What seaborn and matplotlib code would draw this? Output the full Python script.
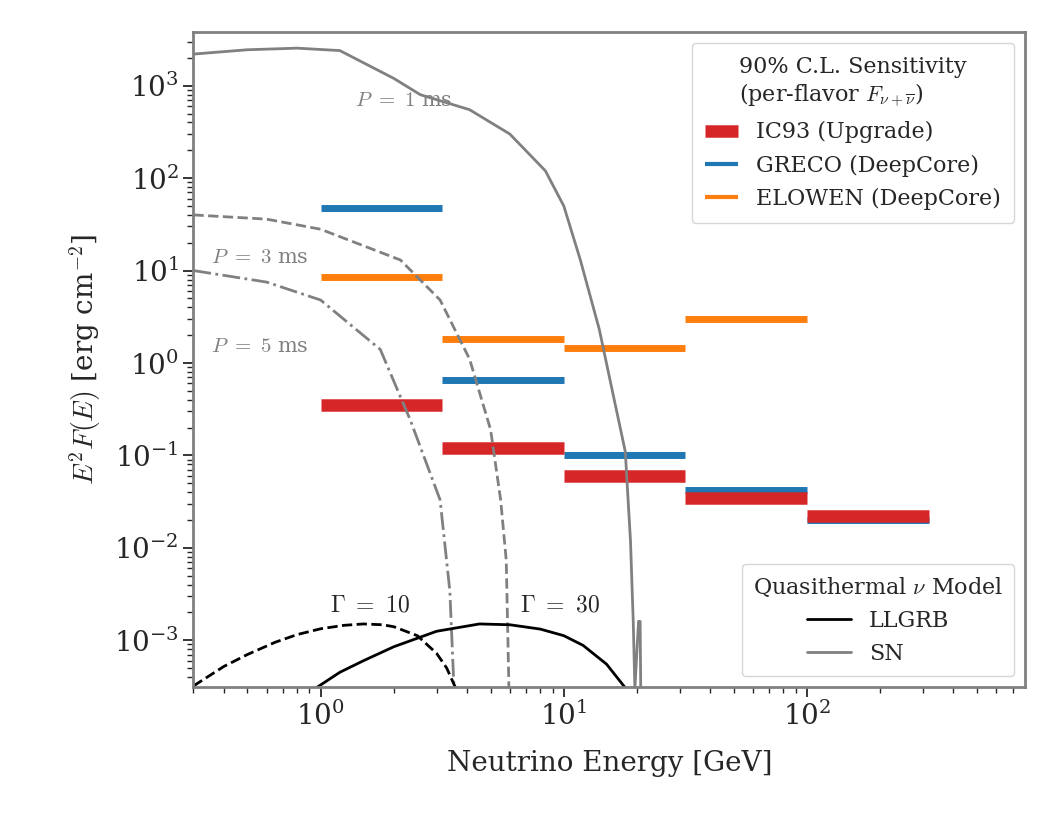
import numpy as np
import matplotlib
matplotlib.use("Agg")
import matplotlib.pyplot as plt
import seaborn as sns
from matplotlib.lines import Line2D

sns.set_theme(style="ticks")
plt.rcParams['font.family'] = ['DejaVu Serif']
plt.rcParams['mathtext.fontset'] = 'cm'

bin_edges = [1, 3.16, 10, 31.6, 100, 316]
ic93 = [0.35, 0.12, 0.06, 0.035, 0.022]
greco = [48, 0.65, 0.10, 0.042, 0.020]
elowen = [8.5, 1.8, 1.45, 3.0]

sn1_E = [0.3, 0.5, 0.8, 1.2, 2.0, 2.57, 4.1, 6.0, 8.4, 10, 11.7, 14, 15.5, 17.9, 18.8, 19.3, 19.6, 20.3, 20.6, 20.8]
sn1_F = [2200, 2450, 2550, 2400, 1200, 800, 550, 300, 120, 50, 13, 2.3, 0.65, 0.11, 0.012, 0.0016, 0.0003, 0.0016, 0.0016, 0.0001]
sn3_E = [0.3, 0.6, 1.0, 2.13, 3.1, 4.1, 5.0, 5.5, 5.8, 6.0]
sn3_F = [40, 36, 28, 13, 4.8, 1.1, 0.19, 0.033, 0.0073, 0.0001]
sn5_E = [0.3, 0.6, 1.0, 1.76, 2.34, 3.1, 3.4, 3.6]
sn5_F = [10, 7.5, 4.8, 1.4, 0.24, 0.033, 0.0034, 0.0001]

g10_E = [0.3, 0.4, 0.5, 0.65, 0.8, 1.0, 1.25, 1.5, 1.8, 2.0, 2.5, 3.0, 3.3, 3.6]
g10_F = [3.2e-4, 5.2e-4, 7e-4, 9.5e-4, 1.15e-3, 1.33e-3, 1.45e-3, 1.5e-3, 1.47e-3, 1.4e-3, 1.12e-3, 7.2e-4, 5e-4, 3e-4]
g30_E = [0.95, 1.2, 1.5, 2.0, 3.0, 4.5, 6.0, 8.0, 10, 12, 15, 18]
g30_F = [3e-4, 4.5e-4, 6e-4, 8.5e-4, 1.25e-3, 1.5e-3, 1.47e-3, 1.32e-3, 1.12e-3, 8.8e-4, 5.5e-4, 3e-4]

fig, ax = plt.subplots(figsize=(10.57, 8.32), dpi=100)
fig.subplots_adjust(left=0.183, right=0.97, top=0.962, bottom=0.174)

for data, col, lw in [(greco, '#1f77b4', 5), (elowen, '#ff7f0e', 5), (ic93, '#d62728', 9)]:
    for i, v in enumerate(data):
        ax.plot([bin_edges[i], bin_edges[i + 1]], [v, v], color=col, lw=lw, solid_capstyle='butt')

gray = '#808080'
sns.lineplot(x=sn1_E, y=sn1_F, ax=ax, color=gray, lw=2, sort=False)
ax.plot(sn3_E, sn3_F, color=gray, lw=2, ls='--')
ax.plot(sn5_E, sn5_F, color=gray, lw=2, ls='-.')
ax.plot(g10_E, g10_F, color='black', lw=2, ls='--')
ax.plot(g30_E, g30_F, color='black', lw=2)

ax.set_xscale('log'); ax.set_yscale('log')
ax.set_xlim(0.3, 790); ax.set_ylim(3.1e-4, 3850)
fs = 20
ax.text(2.2, 700, r'$P\ =\ 1$ ms', color=gray, fontsize=15, ha='center', va='center')
ax.text(0.56, 14, r'$P\ =\ 3$ ms', color=gray, fontsize=15, ha='center', va='center')
ax.text(0.56, 1.5, r'$P\ =\ 5$ ms', color=gray, fontsize=15, ha='center', va='center')
ax.text(1.6, 2.4e-3, r'$\Gamma\ =\ 10$', fontsize=17, ha='center', va='center')
ax.text(9.6, 2.4e-3, r'$\Gamma\ =\ 30$', fontsize=17, ha='center', va='center')

ax.set_xlabel('Neutrino Energy [GeV]', fontsize=fs, labelpad=14)
ax.set_ylabel(r'$E^2F(E)$ [erg cm$^{-2}$]', fontsize=fs, labelpad=8)
ax.tick_params(labelsize=fs, which='both', direction='out')
ax.tick_params(which='major', length=7, width=1.3)
ax.tick_params(which='minor', length=4, width=1)
for s in ax.spines.values():
    s.set_color(gray); s.set_linewidth(2)

h1 = [Line2D([], [], color='#d62728', lw=9, solid_capstyle='butt'),
      Line2D([], [], color='#1f77b4', lw=3, solid_capstyle='butt'),
      Line2D([], [], color='#ff7f0e', lw=3, solid_capstyle='butt')]
leg1 = ax.legend(h1, ['IC93 (Upgrade)', 'GRECO (DeepCore)', 'ELOWEN (DeepCore)'], loc='upper right',
                 title='90% C.L. Sensitivity\n' + r'(per-flavor $F_{\nu+\overline{\nu}}$)',
                 fontsize=16, title_fontsize=16, frameon=True, handlelength=1.5, borderpad=0.6)
ax.add_artist(leg1)
h2 = [Line2D([], [], color='black', lw=2), Line2D([], [], color=gray, lw=2)]
ax.legend(h2, ['LLGRB', 'SN'], loc='lower right', title=r'Quasithermal $\nu$ Model',
          fontsize=16, title_fontsize=16, frameon=True, borderpad=0.5)
fig.savefig('out.png', dpi=100)
